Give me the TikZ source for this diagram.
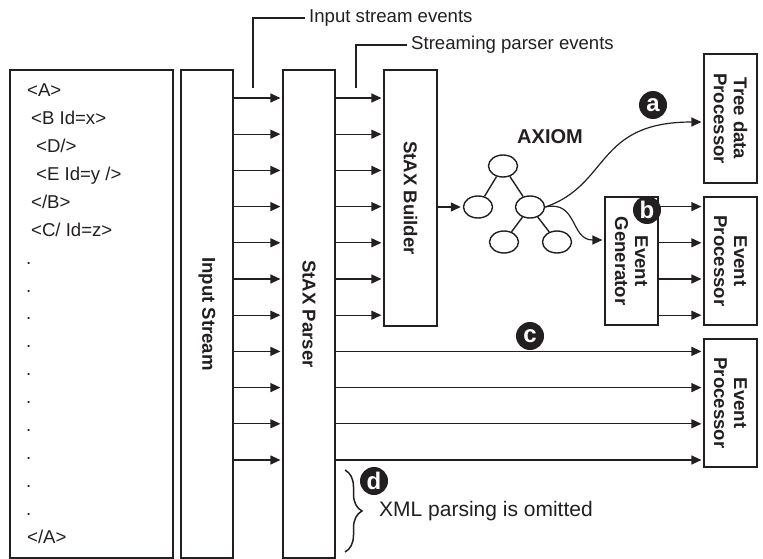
\documentclass[tikz,border=0pt]{standalone}
\usepackage{fontspec}
\setmainfont{Liberation Sans}
\usepackage{xcolor}
\usepackage{tikz}
\usetikzlibrary{arrows.meta,shapes.geometric,decorations.pathreplacing}
\definecolor{axInk}{RGB}{35,31,32}

\begin{document}
\begin{tikzpicture}[x=1pt,y=-1pt,
    every node/.style={font=\fontsize{18.6}{20}\selectfont, text=axInk},
    blk/.style={draw=axInk, line width=1.2pt, inner sep=0pt},
    vtxt/.style={rotate=-90, align=center, font=\fontsize{18.6}{20}\selectfont\bfseries},
    flow/.style={draw=axInk, line width=1.2pt, shorten >=2pt, -{Triangle[length=10pt,width=9pt]}},
    leaf/.style={ellipse, draw=axInk, line width=1.4pt, minimum width=29pt, minimum height=22pt, inner sep=0pt},
    badge/.style={circle, fill=axInk, text=white, inner sep=0pt, minimum size=28pt, font=\fontsize{24}{24}\selectfont\bfseries},
    xmlline/.style={anchor=base west, inner sep=0pt}]
    \useasboundingbox (0,0) rectangle (763,559);

    % document and the two stream stages
    \node[blk, minimum width=163pt, minimum height=488pt] (doc) at (91.5,314) {};
    \node[blk, minimum width=52pt, minimum height=488pt] (instream) at (207,314) {};
    \node[blk, minimum width=52pt, minimum height=488pt] (parser) at (309,314) {};
    \node[vtxt] at (instream.center) {Input Stream};
    \node[vtxt] at (parser.center) {StAX Parser};

    % xml text
    \node[xmlline] (lnA) at (27,96.7) {<A>};
    \node[xmlline] (lnB) at (31,124.6) {<B Id=x>};
    \node[xmlline] (lnD) at (36,152.5) {<D/>};
    \node[xmlline] (lnE) at (36,180.4) {<E Id=y />};
    \node[xmlline] (lnBc) at (31,208.3) {</B>};
    \node[xmlline] (lnC) at (31,236.2) {<C/ Id=z>};
    \foreach \k in {6,...,15}
        \node[xmlline] (dot\k) at (26,96.7+27.9*\k) {.};
    \node[xmlline] (lnAc) at (27,543.1) {</A>};

    % builder and consumers
    \node[blk, minimum width=53pt, minimum height=256pt] (builder) at (410.5,198) {};
    \node[vtxt] at (builder.center) {StAX Builder};
    \node[blk, minimum width=53pt, minimum height=129pt] (treeproc) at (730.5,118.5) {};
    \node[vtxt] at (treeproc.center) {Tree data\\Processor};
    \node[blk, minimum width=53pt, minimum height=128pt] (evgen) at (631.5,261) {};
    \node[vtxt] at (evgen.center) {Event\\Generator};
    \node[blk, minimum width=53pt, minimum height=128pt] (evprocA) at (730.5,261) {};
    \node[vtxt] at (evprocA.center) {Event\\Processor};
    \node[blk, minimum width=53pt, minimum height=128pt] (evprocB) at (730.5,403) {};
    \node[vtxt] at (evprocB.center) {Event\\Processor};

    % event arrows
    \foreach \i [evaluate=\i as \y using 98+36.2*\i] in {0,...,10}
        \draw[flow] (instream.east |- 0,\y) -- (parser.west |- 0,\y);
    \foreach \i [evaluate=\i as \y using 98+36.2*\i] in {0,...,6}
        \draw[flow] (parser.east |- 0,\y) -- (builder.west |- 0,\y);
    \foreach \i [evaluate=\i as \y using 98+36.2*\i] in {7,...,10}
        \draw[flow] (parser.east |- 0,\y) -- (evprocB.west |- 0,\y);
    \foreach \i [evaluate=\i as \y using 98+36.2*\i] in {3,...,6}
        \draw[flow] (evgen.east |- 0,\y) -- (evprocA.west |- 0,\y);

    % AXIOM tree
    \node[font=\fontsize{20}{20}\selectfont\bfseries] (axiom) at (550,137) {AXIOM};
    \node[leaf] (root) at (503,166) {};
    \node[leaf] (tl) at (478,207) {};
    \node[leaf] (tr) at (530,207) {};
    \node[leaf] (tbl) at (504,242) {};
    \node[leaf] (tbr) at (557,242) {};
    \draw[axInk, line width=1.4pt] (root) -- (tl);
    \draw[axInk, line width=1.4pt] (root) -- (tr);
    \draw[axInk, line width=1.4pt] (tr) -- (tbl);
    \draw[axInk, line width=1.4pt] (tr) -- (tbr);
    \draw[flow] (builder.east |- tl) -- (tl.west);

    % tree access and generated events
    \draw[flow] (tr.east) .. controls (610,185) and (595,122) .. (treeproc.west |- 0,122);
    \draw[flow] (tr.east) .. controls (578,200) and (570,240) .. (evgen.west |- 0,240);

    % callouts
    \node[anchor=west, inner sep=4pt] (isevtxt) at (305,18) {Input stream events};
    \coordinate (isev) at (253,88);
    \draw[axInk, line width=1.2pt] (isev) |- (isevtxt.west);
    \node[anchor=west, inner sep=4pt] (spevtxt) at (407,45) {Streaming parser events};
    \coordinate (spev) at (356,88);
    \draw[axInk, line width=1.2pt] (spev) |- (spevtxt.west);

    % omitted parsing
    \draw[axInk, line width=1.5pt, decorate, decoration={brace, amplitude=17pt}] (345,470) -- (345,552);
    \node[anchor=west, inner sep=0pt, font=\fontsize{21}{21}\selectfont] (omit) at (379,511) {XML parsing is omitted};

    % badges
    \node[badge] (ba) at (653,105) {a};
    \node[badge] (bb) at (647,210) {b};
    \node[badge] (bc) at (530,336) {c};
    \node[badge] (bd) at (374,481) {d};
\end{tikzpicture}
\end{document}
